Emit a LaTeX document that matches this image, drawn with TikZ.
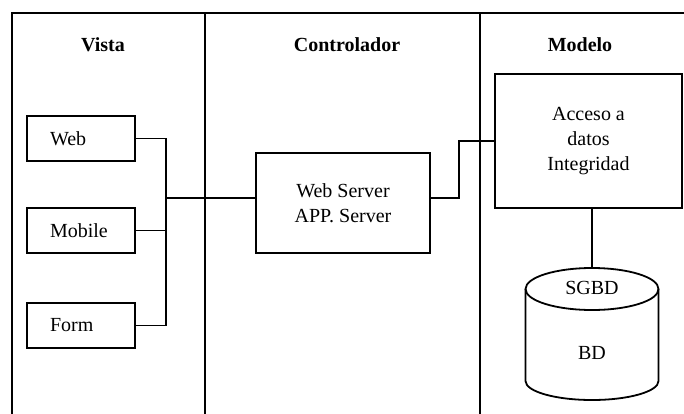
\documentclass[tikz,border=0pt]{standalone}
\usepackage{fontspec}
\setmainfont{Liberation Serif}
\begin{document}
\begin{tikzpicture}[x=1pt,y=-1pt,line width=1.8pt,
  txt/.style={font=\fontsize{20}{25}\selectfont, inner sep=0pt},
  head/.style={txt, font=\fontsize{20}{25}\selectfont\bfseries},
  vbox/.style={draw, txt, minimum width=108pt, minimum height=45pt, inner xsep=23pt, text width=62pt, align=left},
  bigbox/.style={draw, txt, align=center}]
\useasboundingbox (0,0) rectangle (684,414);
% frame
\draw (12,414) -- (12,13) -- (684,13);
\draw (205,13) -- (205,414);
\draw (480,13) -- (480,414);
% headings
\node[head] (hv) at (103,45) {Vista};
\node[head] (hc) at (347,45) {Controlador};
\node[head] (hm) at (580,45) {Modelo};
% view boxes
\node[vbox] (web) at (81,138.5) {Web};
\node[vbox] (mob) at (81,230.5) {Mobile};
\node[vbox] (form) at (81,325.5) {Form};
% controller
\node[bigbox, minimum width=174pt, minimum height=100pt] (ws) at (343,203) {Web Server\\APP. Server};
% model
\node[bigbox, minimum width=187pt, minimum height=134pt] (acc) at (588.5,141) {Acceso a\\datos\\Integridad};
% bus
\coordinate (bt) at (166,138.5);
\coordinate (bb) at (166,325.5);
\coordinate (bm) at (166,198);
\coordinate (jog) at (459,198);
\draw (web.east) -- (bt) -- (bb) -- (form.east);
\draw (mob.east) -- (mob.east -| bt);
\draw (bm) -- (bm -| ws.west);
\draw (bm -| ws.east) -- (jog) |- (acc.west);
% database
\coordinate (ct) at (592,268);
\draw (acc.south -| ct) -- (ct);
\draw (592,289) ellipse [x radius=66.5pt, y radius=21pt];
\draw (525.5,289) -- (525.5,381) arc[start angle=180, end angle=360, x radius=66.5pt, y radius=19pt] -- (658.5,289);
\node[txt] (sg) at (592,288) {SGBD};
\node[txt] (bd) at (592,353) {BD};
\end{tikzpicture}
\end{document}
